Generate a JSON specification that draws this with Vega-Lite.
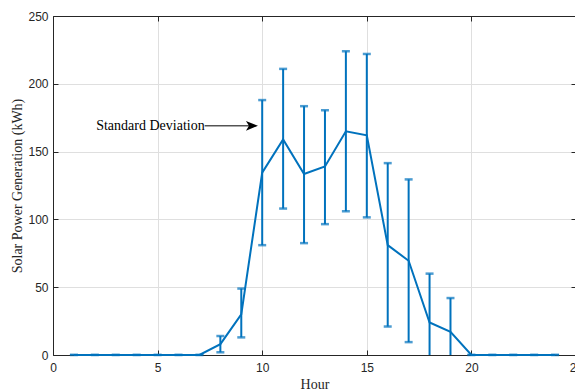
{
  "$schema": "https://vega.github.io/schema/vega-lite/v6.json",
  "width": 523,
  "height": 339,
  "autosize": "none",
  "padding": {"left": 53, "top": 16, "right": 0, "bottom": 35},
  "background": "white",
  "config": {
    "view": {"stroke": null},
    "axis": {
      "domainColor": "#262626",
      "domainWidth": 1,
      "tickColor": "#262626",
      "tickSize": -5,
      "tickWidth": 1,
      "labelColor": "#262626",
      "labelFont": "Liberation Sans",
      "labelFontSize": 12,
      "labelFlush": false,
      "labelOverlap": false,
      "titleFont": "Liberation Serif",
      "titleFontSize": 14,
      "titleFontWeight": "normal",
      "titleColor": "#262626",
      "gridColor": "#dfdfdf",
      "gridWidth": 1
    }
  },
  "datasets": {
    "solar": [
      {"hour": 1, "mean": 0, "lo": 0, "hi": 0},
      {"hour": 2, "mean": 0, "lo": 0, "hi": 0},
      {"hour": 3, "mean": 0, "lo": 0, "hi": 0},
      {"hour": 4, "mean": 0, "lo": 0, "hi": 0},
      {"hour": 5, "mean": 0, "lo": 0, "hi": 0},
      {"hour": 6, "mean": 0, "lo": 0, "hi": 0},
      {"hour": 7, "mean": 0, "lo": 0, "hi": 0},
      {"hour": 8, "mean": 8, "lo": 2, "hi": 14},
      {"hour": 9, "mean": 30, "lo": 13, "hi": 49},
      {"hour": 10, "mean": 134.5, "lo": 81, "hi": 188},
      {"hour": 11, "mean": 159, "lo": 108, "hi": 211},
      {"hour": 12, "mean": 133.5, "lo": 82.5, "hi": 183.5},
      {"hour": 13, "mean": 139, "lo": 96.5, "hi": 180.5},
      {"hour": 14, "mean": 165, "lo": 106, "hi": 224},
      {"hour": 15, "mean": 162, "lo": 101.5, "hi": 222},
      {"hour": 16, "mean": 81, "lo": 21, "hi": 141.5},
      {"hour": 17, "mean": 69.5, "lo": 9.5, "hi": 129.5},
      {"hour": 18, "mean": 24, "lo": -12, "hi": 60},
      {"hour": 19, "mean": 17, "lo": -7.5, "hi": 42},
      {"hour": 20, "mean": 0, "lo": 0, "hi": 0},
      {"hour": 21, "mean": 0, "lo": 0, "hi": 0},
      {"hour": 22, "mean": 0, "lo": 0, "hi": 0},
      {"hour": 23, "mean": 0, "lo": 0, "hi": 0},
      {"hour": 24, "mean": 0, "lo": 0, "hi": 0}
    ],
    "note": [
      {"x": 7.25, "x2": 9.5, "tip": 9.51, "y": 169, "label": "Standard Deviation"}
    ]
  },
  "resolve": {"axis": {"x": "independent", "y": "independent"}},
  "layer": [
    {
      "data": {"name": "solar"},
      "mark": {"type": "rule", "color": "#0072BD", "strokeWidth": 2, "clip": true},
      "encoding": {
        "x": {
          "field": "hour", "type": "quantitative",
          "scale": {"domain": [0, 25], "nice": false},
          "axis": {"title": "Hour", "values": [0, 5, 10, 15, 20, 25], "grid": true, "labelPadding": 12, "titlePadding": 4}
        },
        "y": {
          "field": "lo", "type": "quantitative",
          "scale": {"domain": [0, 250], "nice": false},
          "axis": {"title": "Solar Power Generation (kWh)", "values": [0, 50, 100, 150, 200, 250], "grid": true, "labelPadding": 10, "titlePadding": 3}
        },
        "y2": {"field": "hi"}
      }
    },
    {
      "data": {"name": "solar"},
      "mark": {"type": "tick", "orient": "horizontal", "color": "#0072BD", "size": 8, "thickness": 2.5, "clip": true},
      "encoding": {
        "x": {"field": "hour", "type": "quantitative", "axis": null},
        "y": {"field": "lo", "type": "quantitative", "axis": null}
      }
    },
    {
      "data": {"name": "solar"},
      "mark": {"type": "tick", "orient": "horizontal", "color": "#0072BD", "size": 8, "thickness": 2.5},
      "encoding": {
        "x": {"field": "hour", "type": "quantitative", "axis": null},
        "y": {"field": "hi", "type": "quantitative", "axis": null}
      }
    },
    {
      "data": {"name": "solar"},
      "mark": {"type": "line", "color": "#0072BD", "strokeWidth": 2},
      "encoding": {
        "x": {"field": "hour", "type": "quantitative", "axis": null},
        "y": {"field": "mean", "type": "quantitative", "axis": null}
      }
    },
    {
      "data": {"name": "solar"},
      "mark": {"type": "point", "opacity": 0},
      "encoding": {
        "x": {"field": "hour", "type": "quantitative", "axis": {"orient": "top", "title": null, "labels": false, "grid": false, "values": [0, 5, 10, 15, 20, 25]}},
        "y": {"field": "mean", "type": "quantitative", "axis": {"orient": "right", "title": null, "labels": false, "grid": false, "values": [0, 50, 100, 150, 200, 250]}}
      }
    },
    {
      "data": {"name": "note"},
      "mark": {"type": "rule", "color": "black", "strokeWidth": 1},
      "encoding": {
        "x": {"field": "x", "type": "quantitative", "axis": null},
        "x2": {"field": "x2"},
        "y": {"field": "y", "type": "quantitative", "axis": null}
      }
    },
    {
      "data": {"name": "note"},
      "mark": {"type": "point", "shape": "M1,0L-1,-0.8L-0.5,0L-1,0.8Z", "filled": true, "color": "black", "opacity": 1, "size": 144},
      "encoding": {
        "x": {"field": "tip", "type": "quantitative", "axis": null},
        "y": {"field": "y", "type": "quantitative", "axis": null}
      }
    },
    {
      "data": {"name": "note"},
      "mark": {"type": "text", "align": "right", "baseline": "middle", "font": "Liberation Serif", "fontSize": 14, "color": "black"},
      "encoding": {
        "x": {"field": "x", "type": "quantitative", "axis": null},
        "y": {"field": "y", "type": "quantitative", "axis": null},
        "text": {"field": "label"}
      }
    }
  ]
}
